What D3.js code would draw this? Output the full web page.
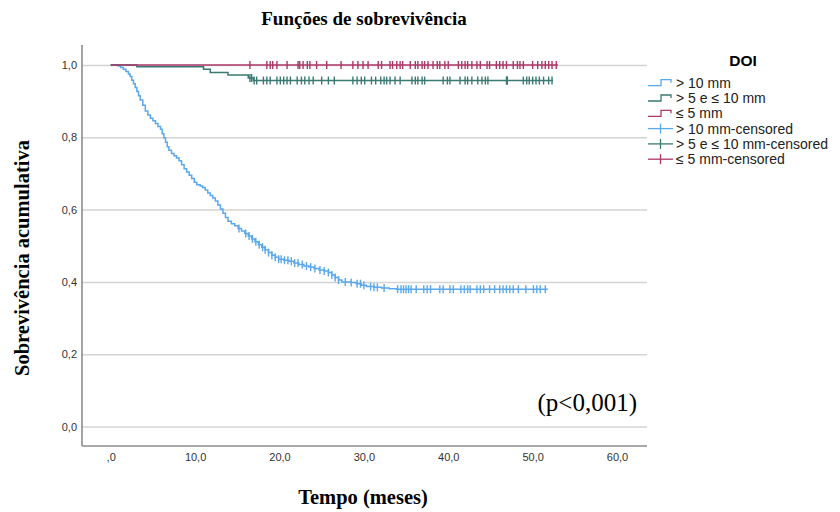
<html lang="pt">

<head>
  <meta charset="UTF-8">
  <title>Funções de sobrevivência</title>
  <script src="https://d3js.org/d3.v7.min.js"></script>
</head>

<style>
  body { margin: 0; background: #fff; }
  .tick text { font-family: "Liberation Sans", Arial, sans-serif; font-size: 11px; fill: #333; }
  .gridlines line { stroke: #d4d4d4; stroke-width: 1.5; }
  .gridlines .domain { stroke: none; }
  .axis .domain { stroke: #8c8c8c; stroke-width: 1.6; }
  .axis line { stroke: none; }
</style>

<body>
  <svg class="kmsvg" width="840" height="512"></svg>
  <script>
    // survival curves, step points [time, survival]
    const seriesNames = ['> 10 mm', '> 5 e \u2264 10 mm', '\u2264 5 mm'];
    const seriesColors = ['#5aa8ee', '#3b7a74', '#ad3768'];

    const blueSteps = [
      [0, 1.0], [0.9, 0.997], [1.2, 0.993], [1.5, 0.988], [1.8, 0.982], [2.1, 0.975], [2.3, 0.968],
      [2.5, 0.958], [2.7, 0.948], [2.9, 0.938], [3.1, 0.927], [3.3, 0.915], [3.5, 0.903], [3.8, 0.889],
      [4.1, 0.873], [4.4, 0.862], [4.7, 0.853], [5.0, 0.846], [5.3, 0.838], [5.6, 0.83], [5.9, 0.822],
      [6.1, 0.81], [6.3, 0.798], [6.5, 0.786], [6.7, 0.774], [6.9, 0.764], [7.2, 0.755], [7.5, 0.749],
      [7.8, 0.743], [8.1, 0.735], [8.4, 0.724], [8.7, 0.713], [9.0, 0.704], [9.3, 0.695], [9.6, 0.686],
      [9.9, 0.676], [10.2, 0.669], [10.6, 0.665], [10.9, 0.661], [11.2, 0.654], [11.5, 0.646],
      [11.8, 0.639], [12.1, 0.632], [12.4, 0.624], [12.7, 0.613], [13.0, 0.602], [13.3, 0.59],
      [13.6, 0.578], [13.9, 0.568], [14.3, 0.561], [14.7, 0.555], [15.1, 0.548], [15.5, 0.541],
      [15.9, 0.534], [16.3, 0.527], [16.7, 0.519], [17.1, 0.511], [17.5, 0.503], [17.9, 0.496],
      [18.3, 0.489], [18.7, 0.481], [19.1, 0.474], [19.5, 0.468], [19.9, 0.463], [20.5, 0.46],
      [21.1, 0.457], [21.7, 0.452], [22.3, 0.448], [22.9, 0.444], [23.5, 0.441], [24.1, 0.437],
      [24.7, 0.433], [25.3, 0.43], [25.8, 0.426], [26.2, 0.419], [26.6, 0.412], [27.0, 0.405],
      [27.4, 0.4], [28.5, 0.398], [29.1, 0.395], [29.7, 0.391], [30.3, 0.387], [31.2, 0.385],
      [32.1, 0.383], [33.0, 0.381], [33.9, 0.38], [51.8, 0.38]
    ];
    const tealSteps = [
      [0, 1.0], [3.1, 0.995], [11.0, 0.988], [11.8, 0.979], [13.9, 0.972], [16.3, 0.964],
      [16.9, 0.957], [52.4, 0.957]
    ];
    const redSteps = [[0, 1.0], [53.0, 1.0]];

    // censored times
    const blueCensored = [
      15.2, 16.0, 16.4, 16.8, 17.2, 17.6, 18.0, 18.3, 18.7, 19.1, 19.5, 19.9, 20.2, 20.6, 21.0,
      21.4, 21.8, 22.2, 22.7, 23.2, 23.7, 24.2, 24.8, 25.3, 25.8, 26.2, 26.6, 27.0, 27.8, 28.5,
      29.2, 29.6, 30.0, 30.8, 31.2, 31.6, 32.4, 34.0, 34.4, 34.7, 35.0, 35.3, 35.6, 36.2, 37.1,
      37.5, 37.9, 39.0, 39.4, 40.2, 40.6, 41.5, 41.9, 42.3, 42.6, 43.4, 43.8, 44.2, 44.9, 45.5,
      46.1, 46.5, 46.9, 47.3, 47.7, 48.3, 49.2, 50.1, 50.5, 50.9, 51.5
    ];
    const tealCensored = [
      16.5, 16.7, 17.0, 17.3, 18.1, 18.5, 18.9, 19.7, 20.1, 20.5, 20.9, 21.3, 22.1, 22.6, 23.0,
      23.5, 24.0, 25.0, 25.8, 26.5, 28.7, 29.2, 29.7, 30.1, 30.9, 31.4, 32.0, 32.4, 32.7, 33.1,
      33.7, 34.3, 35.7, 36.1, 36.4, 36.9, 37.2, 39.4, 39.9, 40.2, 41.4, 42.0, 42.3, 42.8, 43.5,
      44.0, 44.4, 44.7, 46.9, 47.0, 47.0, 48.9, 49.3, 49.6, 50.0, 50.4, 50.8, 51.3, 51.9, 52.3
    ];
    const redCensored = [
      16.5, 18.5, 18.9, 19.2, 19.7, 20.9, 22.2, 22.4, 22.8, 23.3, 23.6, 24.4, 25.6, 27.3, 28.7,
      29.3, 29.9, 30.5, 31.7, 32.1, 33.1, 33.4, 33.9, 34.3, 34.6, 35.5, 36.1, 36.4, 36.9, 37.2,
      37.6, 38.2, 38.7, 39.0, 39.6, 40.0, 41.2, 41.6, 42.0, 42.3, 42.8, 43.4, 43.8, 44.6, 44.9,
      45.7, 46.1, 46.5, 46.9, 47.7, 48.2, 48.5, 48.9, 50.0, 50.6, 51.1, 51.5, 51.9, 52.3, 52.8
    ];

    const xTicks = [0, 10, 20, 30, 40, 50, 60];
    const xTickLabels = [',0', '10,0', '20,0', '30,0', '40,0', '50,0', '60,0'];
    const yTicks = [0, 0.2, 0.4, 0.6, 0.8, 1.0];
    const yTickLabels = ['0,0', '0,2', '0,4', '0,6', '0,8', '1,0'];

    const svg = d3.select('svg.kmsvg');
    const plot = { left: 82, right: 647, top: 45, bottom: 446 };

    const xScale = d3.scaleLinear().domain([0, 60]).range([110.7, 617]);
    const yScale = d3.scaleLinear().domain([0, 1]).range([426.5, 65]);

    // gridlines
    let gridlines = d3.axisLeft(yScale)
      .tickValues(yTicks)
      .tickSize(-(plot.right - plot.left))
      .tickFormat('');
    svg.append('g')
      .attr('class', 'gridlines')
      .attr('transform', `translate(${plot.left},0)`)
      .call(gridlines);

    // axes
    let leftAxis = d3.axisLeft(yScale)
      .tickValues(yTicks)
      .tickSize(0)
      .tickPadding(5)
      .tickFormat((d, i) => yTickLabels[i]);
    let yAxisG = svg.append('g')
      .attr('class', 'axis')
      .attr('transform', `translate(${plot.left},0)`)
      .call(leftAxis);
    yAxisG.select('.domain').attr('d', `M0,${plot.top}V${plot.bottom}`);

    let bottomAxis = d3.axisBottom(xScale)
      .tickValues(xTicks)
      .tickSize(0)
      .tickPadding(7)
      .tickFormat((d, i) => xTickLabels[i]);
    let xAxisG = svg.append('g')
      .attr('class', 'axis')
      .attr('transform', `translate(0,${plot.bottom})`)
      .call(bottomAxis);
    xAxisG.select('.domain').attr('d', `M${plot.left},0H${plot.right}`);

    // curves
    const line = d3.line()
      .x(d => xScale(d[0]))
      .y(d => yScale(d[1]))
      .curve(d3.curveStepAfter);

    const allSteps = [blueSteps, tealSteps, redSteps];
    const allCensored = [blueCensored, tealCensored, redCensored];

    function survivalAt(steps, t) {
      let s = steps[0][1];
      steps.forEach(p => { if (p[0] <= t) s = p[1]; });
      return s;
    }

    // draw blue first, then teal, red on top
    [0, 1, 2].forEach(i => {
      svg.append('path')
        .attr('d', line(allSteps[i]))
        .attr('fill', 'none')
        .attr('stroke', seriesColors[i])
        .attr('stroke-width', 1.5);
      allCensored[i].forEach(t => {
        const cx = xScale(t);
        const cy = yScale(survivalAt(allSteps[i], t));
        svg.append('line')
          .attr('x1', cx).attr('x2', cx)
          .attr('y1', cy - 4).attr('y2', cy + 4)
          .attr('stroke', seriesColors[i])
          .attr('stroke-width', 1.4);
      });
    });

    // titles
    svg.append('text')
      .attr('x', 364).attr('y', 25)
      .attr('text-anchor', 'middle')
      .style('font-family', '"Liberation Serif", "Times New Roman", serif')
      .style('font-weight', 'bold')
      .style('font-size', '19px')
      .text('Funções de sobrevivência');

    svg.append('text')
      .attr('transform', 'translate(29,258) rotate(-90)')
      .attr('text-anchor', 'middle')
      .style('font-family', '"Liberation Serif", "Times New Roman", serif')
      .style('font-weight', 'bold')
      .style('font-size', '20.5px')
      .text('Sobrevivência acumulativa');

    svg.append('text')
      .attr('x', 363).attr('y', 504)
      .attr('text-anchor', 'middle')
      .style('font-family', '"Liberation Serif", "Times New Roman", serif')
      .style('font-weight', 'bold')
      .style('font-size', '20.5px')
      .text('Tempo (meses)');

    svg.append('text')
      .attr('x', 637).attr('y', 411)
      .attr('text-anchor', 'end')
      .style('font-family', '"Liberation Serif", "Times New Roman", serif')
      .style('font-size', '25px')
      .text('(p<0,001)');

    // legend
    const legend = svg.append('g').attr('transform', 'translate(648,0)');
    legend.append('text')
      .attr('x', 95).attr('y', 66)
      .attr('text-anchor', 'middle')
      .style('font-family', '"Liberation Sans", Arial, sans-serif')
      .style('font-weight', 'bold')
      .style('font-size', '15.5px')
      .text('DOI');

    const legendLabels = seriesNames.concat(seriesNames.map(n => n + '-censored'));
    legendLabels.forEach((label, k) => {
      const yy = 82.7 + k * 15.3;
      const c = seriesColors[k % 3];
      if (k < 3) {
        legend.append('path')
          .attr('d', `M0,${yy + 3}H13V${yy - 3}H23V${yy}`)
          .attr('fill', 'none')
          .attr('stroke', c)
          .attr('stroke-width', 1.3);
      } else {
        legend.append('line')
          .attr('x1', 0).attr('x2', 25).attr('y1', yy).attr('y2', yy)
          .attr('stroke', c).attr('stroke-width', 1.3);
        legend.append('line')
          .attr('x1', 12.5).attr('x2', 12.5).attr('y1', yy - 5).attr('y2', yy + 5)
          .attr('stroke', c).attr('stroke-width', 1.3);
      }
      legend.append('text')
        .attr('x', 28).attr('y', yy + 5)
        .style('font-family', '"Liberation Sans", Arial, sans-serif')
        .style('font-size', '14px')
        .style('fill', '#222')
        .text(label);
    });
  </script>
</body>

</html>
